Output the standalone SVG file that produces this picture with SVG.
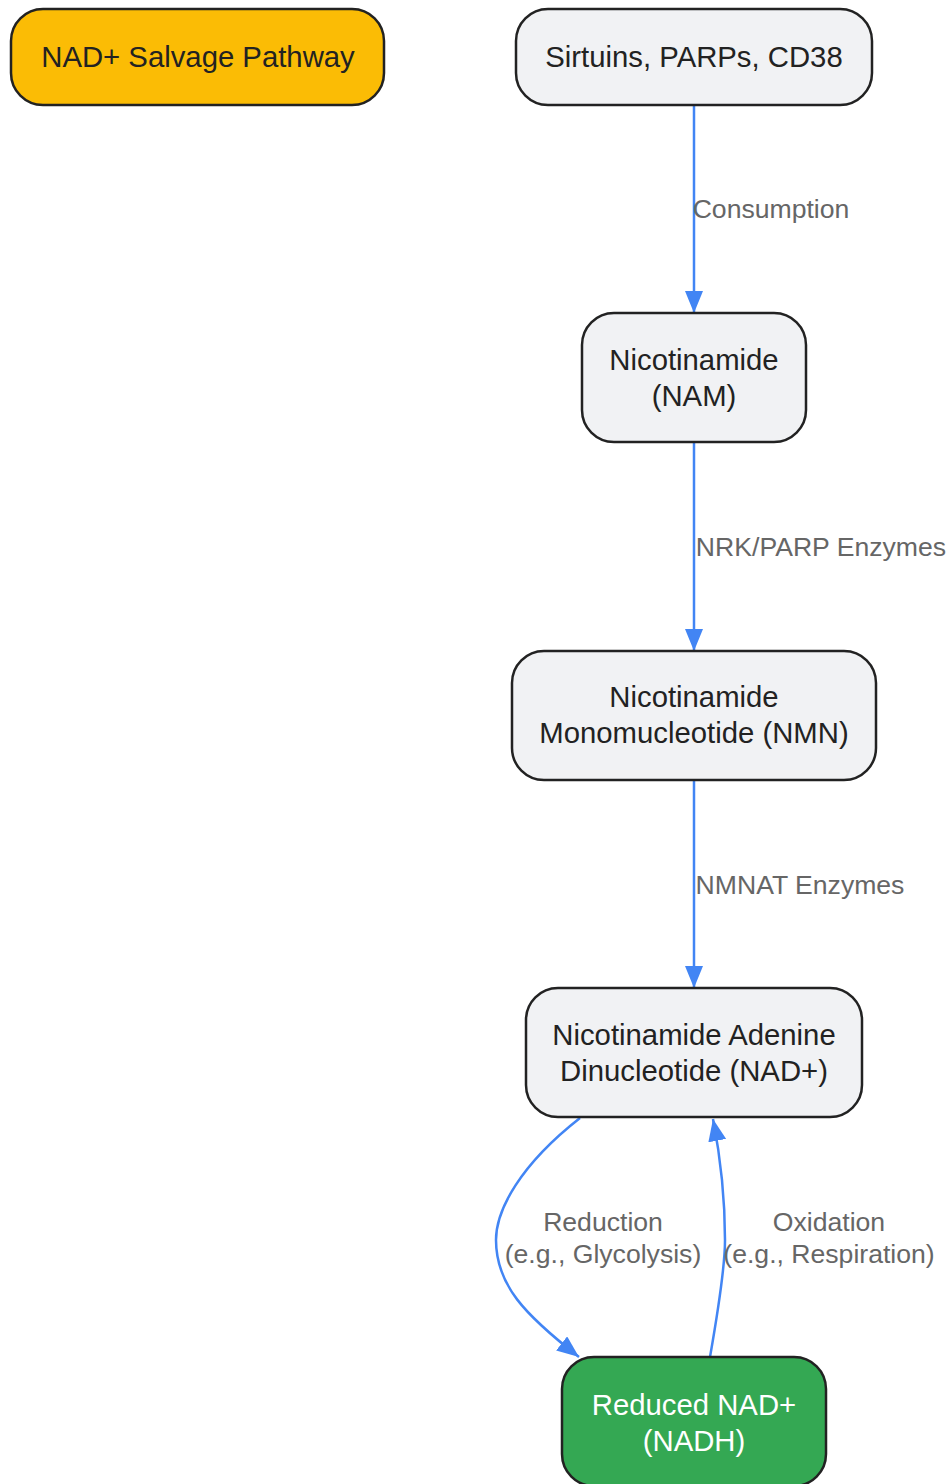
<svg xmlns="http://www.w3.org/2000/svg" width="949" height="1484" viewBox="0 0 949 1484">
<style>
.node rect{stroke:#222;stroke-width:2.5}
.gray rect{fill:#F1F2F4}
.nt{font-family:"Liberation Sans",Arial,sans-serif;font-size:29.3px;fill:#222;text-anchor:middle}
.lbl{font-family:"Liberation Sans",Arial,sans-serif;font-size:26.6px;fill:#666;text-anchor:middle}
.edge{fill:none;stroke:#4285F4;stroke-width:2.5}
</style>
<defs>
<marker id="arr" viewBox="0 0 22 18" refX="22" refY="9" markerWidth="22" markerHeight="18" markerUnits="userSpaceOnUse" orient="auto">
<path d="M0,0 L22,9 L0,18 Z" fill="#4285F4"/>
</marker>
</defs>
<rect width="949" height="1484" fill="#fff"/>
<g id="connectors">
<path class="edge" d="M694,105 L694,313" marker-end="url(#arr)"/>
<path class="edge" d="M694,442 L694,651" marker-end="url(#arr)"/>
<path class="edge" d="M694,780 L694,988" marker-end="url(#arr)"/>
<path class="edge" d="M580,1118 C520,1165 496,1210 496,1240 C496,1285 525,1315 579,1357" marker-end="url(#arr)"/>
<path class="edge" d="M710,1357 C720,1300 725,1265 725,1240 C725,1195 721,1160 713,1119" marker-end="url(#arr)"/>
<text class="lbl" x="771" y="218">Consumption</text>
<text class="lbl" x="821" y="556">NRK/PARP Enzymes</text>
<text class="lbl" x="800" y="894">NMNAT Enzymes</text>
<text class="lbl" x="603" y="1231">Reduction</text>
<text class="lbl" x="603" y="1263">(e.g., Glycolysis)</text>
<text class="lbl" x="829" y="1231">Oxidation</text>
<text class="lbl" x="829" y="1263">(e.g., Respiration)</text>
</g>
<g id="salvage" class="node"><rect x="11" y="9" width="373" height="96" rx="32" fill="#FBBC05"/><text class="nt" x="198" y="67">NAD+ Salvage Pathway</text></g>
<g id="sirtuins" class="node gray"><rect x="516" y="9" width="356" height="96" rx="32"/><text class="nt" x="694" y="67">Sirtuins, PARPs, CD38</text></g>
<g id="nam" class="node gray"><rect x="582" y="313" width="224" height="129" rx="32"/><text class="nt" x="694" y="370">Nicotinamide</text><text class="nt" x="694" y="406">(NAM)</text></g>
<g id="nmn" class="node gray"><rect x="512" y="651" width="364" height="129" rx="32"/><text class="nt" x="694" y="707">Nicotinamide</text><text class="nt" x="694" y="743">Monomucleotide (NMN)</text></g>
<g id="nad" class="node gray"><rect x="526" y="988" width="336" height="129" rx="32"/><text class="nt" x="694" y="1045">Nicotinamide Adenine</text><text class="nt" x="694" y="1081">Dinucleotide (NAD+)</text></g>
<g id="nadh" class="node"><rect x="562" y="1357" width="264" height="129" rx="32" fill="#34A853"/><text class="nt" x="694" y="1415" style="fill:#fff">Reduced NAD+</text><text class="nt" x="694" y="1451" style="fill:#fff">(NADH)</text></g>
</svg>
